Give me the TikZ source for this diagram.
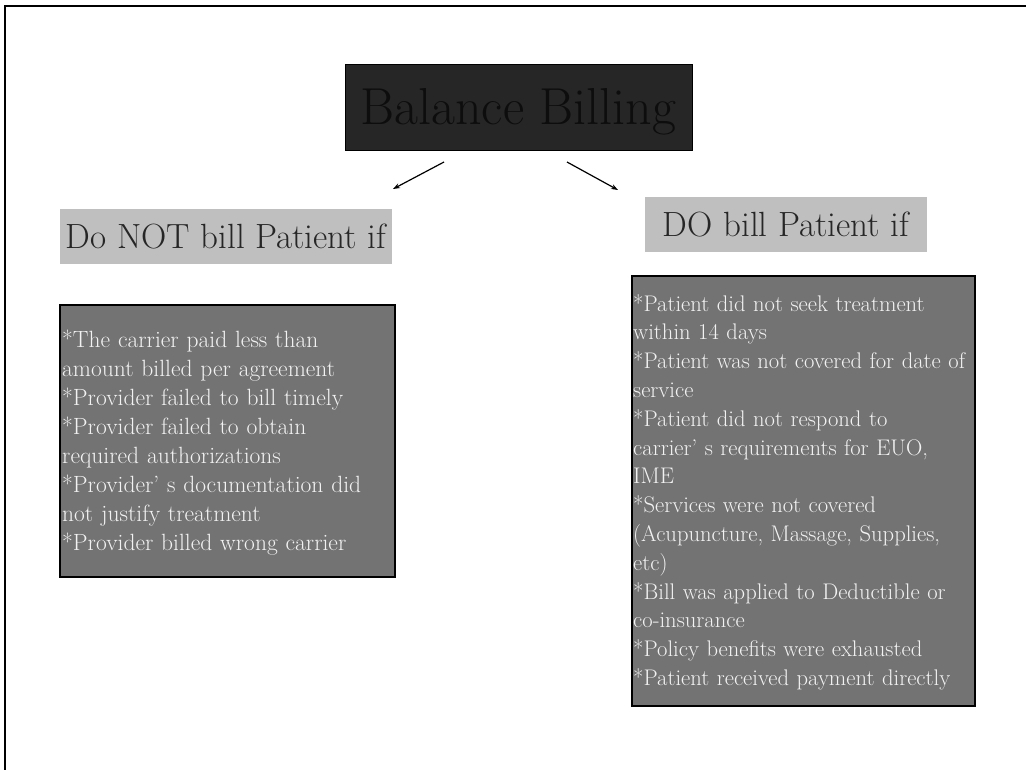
\documentclass[tikz,border=0pt]{standalone}
\usepackage{fontspec}
\usetikzlibrary{arrows.meta}
\definecolor{titlefill}{HTML}{262626}
\definecolor{titletext}{HTML}{0D0D0D}
\definecolor{labelfill}{HTML}{BFBFBF}
\definecolor{labeltext}{HTML}{262626}
\definecolor{boxfill}{HTML}{737373}
\definecolor{boxtext}{HTML}{F2F2F2}
\tikzset{
  titlebox/.style={draw=black, line width=1pt, fill=titlefill, text=titletext,
    inner sep=0pt, minimum width=347pt, minimum height=86pt,
    text height=35pt, text depth=0pt, font=\fontsize{52}{56}\selectfont},
  labelbox/.style={fill=labelfill, text=labeltext, inner sep=0pt,
    minimum height=55pt, font=\fontsize{35}{38}\selectfont},
  listbox/.style={draw=black, line width=2pt, fill=boxfill},
  listtext/.style={text=boxtext, inner sep=0pt, anchor=north west,
    text width=420pt, align=left},
  linkarrow/.style={draw=black, line width=1.2pt, -{Stealth[length=7pt,width=5pt]}}
}
\begin{document}
\begin{tikzpicture}[x=1pt,y=-1pt]
\useasboundingbox (0,0) rectangle (1026,769);
\fill[white] (0,0) rectangle (1026,769);
\begin{scope}
\clip (0,0) rectangle (1026,769);
\draw[line width=2.5pt] (5,6) rectangle (1060,800);
\end{scope}

\node[titlebox] (title) at (518.5,107) {Balance Billing};

\node[labelbox, minimum width=332pt] (lblno) at (226,236.5) {Do NOT bill Patient if};
\node[labelbox, minimum width=282pt] (lbldo) at (786,224.5) {DO bill Patient if};

\node[listbox, minimum width=335pt, minimum height=272pt, inner sep=0pt] (boxno) at (227.5,441) {};
\node[listbox, minimum width=343pt, minimum height=430pt, inner sep=0pt] (boxdo) at (803.5,491) {};

\node[listtext, font=\fontsize{23.5}{29}\selectfont] (textno) at (62,326.7) {\strut{*}The carrier paid less than\\
amount billed per agreement\\
{*}Provider failed to bill timely\\
{*}Provider failed to obtain\\
required authorizations\\
{*}Provider’ s documentation did\\
not justify treatment\\
{*}Provider billed wrong carrier};

\node[listtext, font=\fontsize{22.6}{28.8}\selectfont] (textdo) at (633,290.8) {\strut{*}Patient did not seek treatment\\
within 14 days\\
{*}Patient was not covered for date of\\
service\\
{*}Patient did not respond to\\
carrier’ s requirements for EUO,\\
IME\\
{*}Services were not covered\\
(Acupuncture, Massage, Supplies,\\
etc)\\
{*}Bill was applied to Deductible or\\
co-insurance\\
{*}Policy benefits were exhausted\\
{*}Patient received payment directly};

\coordinate (aLs) at (444,162);
\coordinate (aLe) at (393,189);
\coordinate (aRs) at (567,162);
\coordinate (aRe) at (618,190);
\draw[linkarrow] (aLs) -- (aLe);
\draw[linkarrow] (aRs) -- (aRe);
\end{tikzpicture}
\end{document}
